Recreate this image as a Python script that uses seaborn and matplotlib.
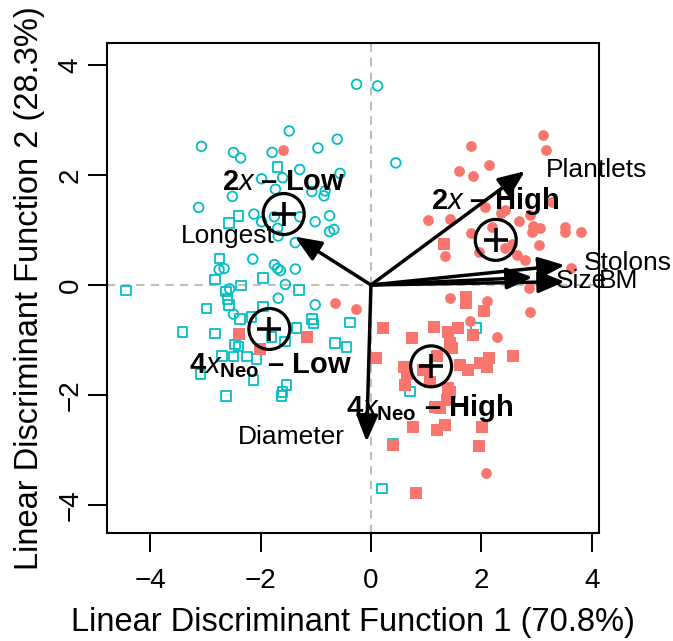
import numpy as np
import pandas as pd
import matplotlib
matplotlib.use("Agg")
import matplotlib.pyplot as plt
import seaborn as sns

# ---------------- data ----------------
low2x_x = [-0.26, 0.12, -1.48, -0.61, -3.07, -2.49, -2.36, -1.79, -0.96, -1.29, -0.56, -1.98, -1.60,
           -1.73, -2.51, -1.07, -0.83, -0.85, -3.12, -2.12, -1.75, -1.29, -1.01, -0.75, -0.67, -0.75,
           -1.98, -1.69, -1.68, -1.37, -2.14, -1.75, -1.69, -1.64, -1.37, -2.66, -2.75, -1.55, -1.68,
           -1.01, -2.49, -2.56, 0.45]
low2x_y = [3.65, 3.62, 2.80, 2.65, 2.52, 2.41, 2.31, 2.41, 2.49, 2.10, 2.03, 1.93, 1.95,
           1.74, 1.61, 1.70, 1.71, 1.62, 1.41, 1.29, 1.24, 1.24, 1.15, 1.26, 1.01, 0.97,
           1.15, 1.03, 0.89, 0.77, 0.47, 0.37, 0.30, 0.26, 0.29, 0.30, 0.28, 0.01, -0.24,
           -0.36, -0.53, -0.07, 2.22]

low4x_x = [-4.44, -1.69, -2.40, -2.57, -2.74, -2.82, -2.35, -1.95, -2.63, -2.60, -2.57, -2.98, -1.96,
           -2.16, -2.37, -3.41, -2.82, -2.40, -2.46, -2.70, -2.49, -2.25, -2.07, -3.09, -2.13, -2.63,
           -1.53, -1.60, -1.62, -1.30, -1.07, -1.04, -0.38, -1.35, -1.16, -1.56, -0.65, -0.44, 1.90,
           0.71, 0.40, 0.20, -1.80]
low4x_y = [-0.10, 2.14, 1.25, 1.13, 0.48, 0.10, -0.01, 0.13, -0.12, -0.26, -0.36, -0.43, -0.39,
           -0.58, -0.62, -0.86, -0.88, -1.12, -1.08, -1.29, -1.30, -1.30, -1.35, -1.62, -1.73, -2.02,
           -1.82, -1.95, -2.02, -0.09, -0.62, -0.70, -0.68, -0.78, -0.94, -1.03, -1.05, -1.13, -0.78,
           -1.94, -2.88, -3.70, -0.95]

high2x_x = [-1.60, 3.12, 3.17, 1.81, 2.13, 1.60, 1.84, 1.03, 1.43, 2.07, 2.36, 2.42, 2.68, 2.88,
            3.27, 2.94, 3.06, 2.91, 3.52, 3.52, 3.80, 1.81, 1.95, 1.35, 3.04, 2.43, 2.65, 2.79,
            3.62, 2.86, 2.88, 1.43, 2.10, 1.80, 2.28, 2.08, -0.66, -0.27, 2.20, 2.55]
high2x_y = [2.45, 2.73, 2.45, 2.53, 2.19, 2.08, 1.98, 1.18, 1.20, 1.42, 1.30, 1.36, 1.16, 1.27,
            1.51, 1.07, 1.04, 0.97, 1.06, 0.96, 0.96, 0.94, 0.60, 0.52, 0.72, 0.67, 0.54, 0.45,
            0.31, -0.05, -0.50, -0.24, -0.29, -0.65, -0.94, -3.41, -0.33, -0.44, 1.05, 0.75]

high4x_x = [1.33, 1.72, 1.72, 2.05, 0.22, 1.14, 1.40, 1.58, 1.85, 0.74, 1.43, 1.46, 0.09, 2.57,
            2.14, 1.97, 2.10, 1.61, 1.76, 0.59, 0.65, 1.07, 1.40, 1.43, 0.62, 1.16, 1.25, 1.37,
            0.76, 1.19, 1.34, 2.01, 1.96, 0.40, 0.82, -2.39, -2.01, -1.15, 1.20, 0.95]
high4x_y = [0.74, -0.21, -0.33, -0.48, -0.79, -0.76, -0.85, -0.79, -0.91, -0.97, -1.06, -1.15, -1.32, -1.29,
            -1.33, -1.42, -1.50, -1.45, -1.55, -1.49, -1.61, -1.76, -1.88, -1.94, -1.82, -2.21, -2.24, -2.09,
            -2.58, -2.64, -2.55, -2.59, -2.92, -2.91, -3.79, -0.89, -1.16, -0.94, -1.30, -1.55]

group_names = ["2x-Low", "4xNeo-Low", "2x-High", "4xNeo-High"]
centroid_x = [-1.58, -1.84, 2.26, 1.09]
centroid_y = [1.29, -0.80, 0.82, -1.48]
group_labels = [r"$\mathbf{2}\mathit{x}$ – Low",
                r"$\mathbf{4}\mathit{x}_{\mathbf{Neo}}$ – Low",
                r"$\mathbf{2}\mathit{x}$ – High",
                r"$\mathbf{4}\mathit{x}_{\mathbf{Neo}}$ – High"]

var_names = ["Longest", "Plantlets", "Stolons", "Size", "BM", "Diameter"]
load_x = [-1.38, 2.79, 3.51, 3.51, 2.93, -0.08]
load_y = [0.88, 2.07, 0.36, 0.06, 0.14, -2.85]

ticks = [-4, -2, 0, 2, 4]
xlabel = "Linear Discriminant Function 1 (70.8%)"
ylabel = "Linear Discriminant Function 2 (28.3%)"

# ---------------- style ----------------
sns.set_style("ticks")
plt.rcParams["font.family"] = ["Liberation Sans", "DejaVu Sans"]
plt.rcParams["mathtext.fontset"] = "custom"
plt.rcParams["mathtext.rm"] = "Liberation Sans"
plt.rcParams["mathtext.it"] = "Liberation Sans:italic"
plt.rcParams["mathtext.bf"] = "Liberation Sans:bold"
plt.rcParams["text.color"] = "black"
plt.rcParams["axes.labelcolor"] = "black"
plt.rcParams["xtick.color"] = "black"
plt.rcParams["ytick.color"] = "black"

CYAN = "#00BFC4"
SALMON = "#F8766D"

df = pd.concat([
    pd.DataFrame({"LD1": low2x_x, "LD2": low2x_y, "group": "2x-Low"}),
    pd.DataFrame({"LD1": low4x_x, "LD2": low4x_y, "group": "4xNeo-Low"}),
    pd.DataFrame({"LD1": high2x_x, "LD2": high2x_y, "group": "2x-High"}),
    pd.DataFrame({"LD1": high4x_x, "LD2": high4x_y, "group": "4xNeo-High"}),
], ignore_index=True)

W, H = 673, 641
fig = plt.figure(figsize=(W / 100, H / 100), dpi=100)
ax = fig.add_axes([107 / W, 1 - 533 / H, 492 / W, 490 / H])

ax.axhline(0, color="#BEBEBE", lw=1.5, ls=(0, (4, 3)), zorder=0)
ax.axvline(0, color="#BEBEBE", lw=1.5, ls=(0, (4, 3)), zorder=0)

sns.scatterplot(data=df[df.group == "2x-Low"], x="LD1", y="LD2", marker="o", s=48,
                fc="none", ec=CYAN, linewidth=1.3, ax=ax, zorder=2)
sns.scatterplot(data=df[df.group == "4xNeo-Low"], x="LD1", y="LD2", marker="s", s=48,
                fc="none", ec=CYAN, linewidth=1.3, ax=ax, zorder=2)
sns.scatterplot(data=df[df.group == "2x-High"], x="LD1", y="LD2", marker="o", s=60,
                color=SALMON, linewidth=0, ax=ax, zorder=2)
sns.scatterplot(data=df[df.group == "4xNeo-High"], x="LD1", y="LD2", marker="s", s=72,
                color=SALMON, linewidth=0, ax=ax, zorder=2)

# loadings arrows
for vx, vy in zip(load_x, load_y):
    ax.annotate("", xy=(vx, vy), xytext=(0, 0), zorder=4,
                arrowprops=dict(arrowstyle="-|>,head_length=0.8,head_width=0.33",
                                color="black", lw=2.5, shrinkA=0, shrinkB=0,
                                mutation_scale=20))

# centroids
sns.scatterplot(x=centroid_x, y=centroid_y, marker="o", s=29.5 ** 2, fc="none", ec="black",
                linewidth=2.3, ax=ax, zorder=5)
sns.scatterplot(x=centroid_x, y=centroid_y, marker="+", s=17 ** 2, color="black",
                linewidth=2.6, ax=ax, zorder=5)

# variable labels
var_pos = {"Longest": (-1.74, 0.89, "right"), "Plantlets": (3.17, 2.09, "left"),
           "Stolons": (3.86, 0.40, "left"), "Size": (3.35, 0.07, "left"),
           "BM": (4.13, 0.07, "left"), "Diameter": (-0.47, -2.76, "right")}
for name in var_names:
    px, py, ha = var_pos[name]
    ax.text(px, py, name, fontsize=19, ha=ha, va="center", zorder=6, clip_on=False,
            color="black")

# group labels
grp_pos = [(-1.58, 1.73), (-1.83, -1.60), (2.25, 1.39), (1.07, -2.39)]
for lab, (gx, gy) in zip(group_labels, grp_pos):
    ax.text(gx, gy, lab, fontsize=21, fontweight="bold", ha="center", va="baseline", zorder=6,
            color="black")

ax.set_xlim(-4.78, 4.13)
ax.set_ylim(-4.51, 4.40)
ax.set_xticks(ticks)
ax.set_yticks(ticks)
ax.set_xticklabels([f"{t}".replace("-", "\u2212") for t in ticks])
ax.set_yticklabels([f"{t}".replace("-", "\u2212") for t in ticks])
for s in ax.spines.values():
    s.set_linewidth(1.5)
    s.set_color("black")
ax.tick_params(axis="both", direction="out", length=14, width=1.4, labelsize=20,
               colors="black", labelcolor="black")
ax.tick_params(axis="x", pad=11)
ax.tick_params(axis="y", pad=3, labelrotation=90)
for lbl in ax.get_yticklabels():
    lbl.set_va("center")

ax.set_xlabel(xlabel, fontsize=23.5, color="black")
ax.set_ylabel(ylabel, fontsize=23.5, color="black")
ax.xaxis.label.set_va("baseline")
ax.yaxis.label.set_va("baseline")
ax.xaxis.set_label_coords(0.5, -0.2)
ax.yaxis.set_label_coords(-0.140, 0.5)

fig.savefig("out.png", dpi=100)
